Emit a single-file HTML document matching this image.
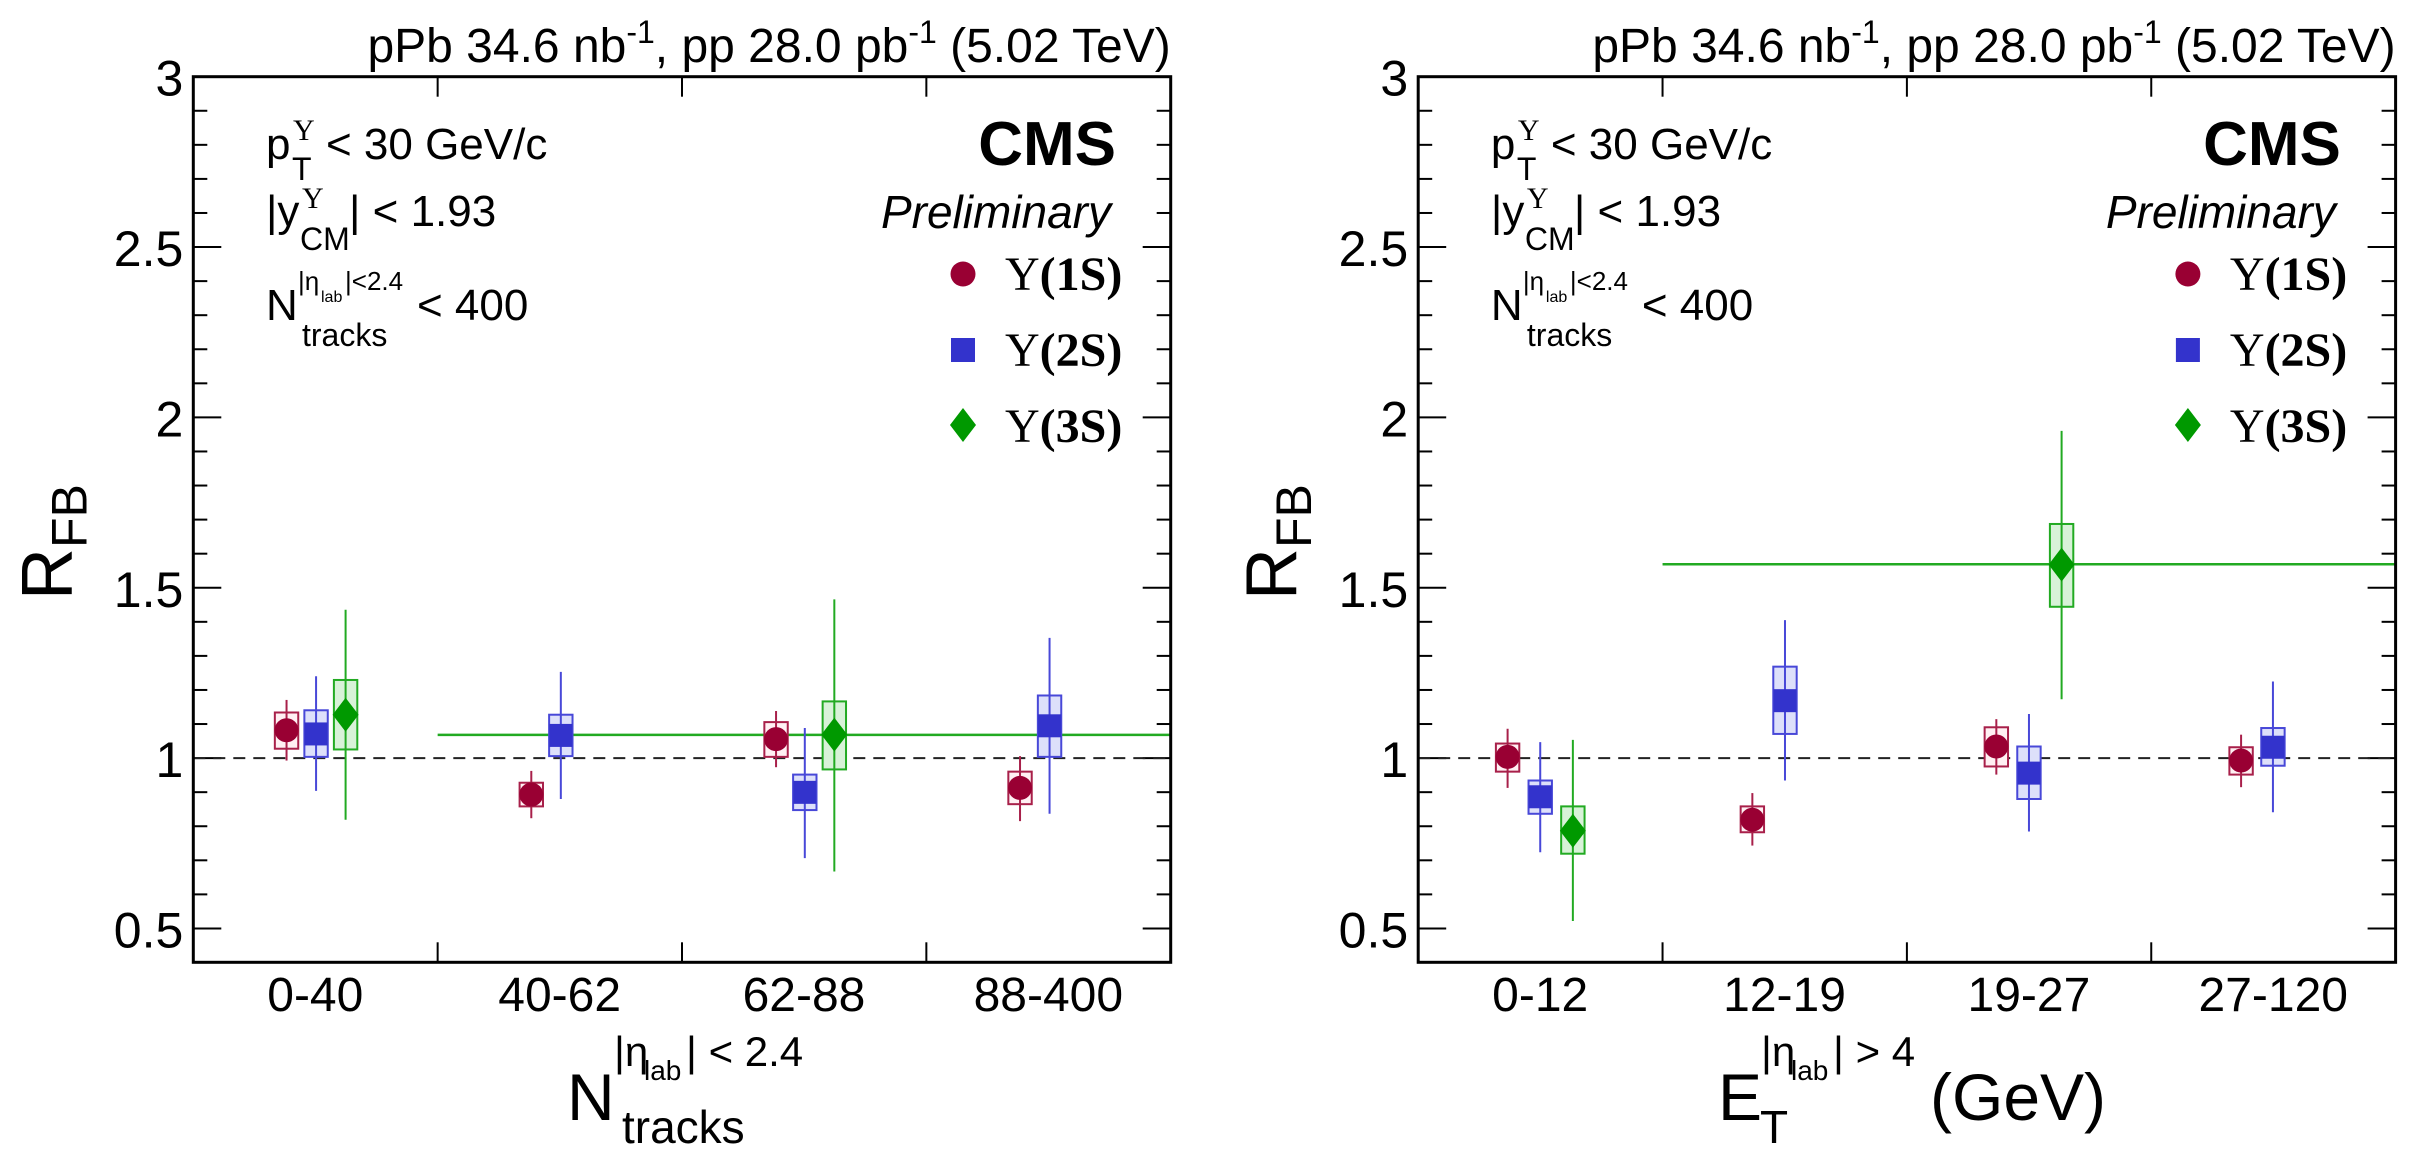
<!DOCTYPE html>
<html><head><meta charset="utf-8"><style>
html,body{margin:0;padding:0;background:#fff;}
svg{display:block;}
text{font-family:"Liberation Sans",sans-serif;fill:#000;}
.ser{font-family:"Liberation Serif",serif;font-weight:bold;}
</style></head><body>
<svg id="s" width="2435" height="1160" viewBox="0 0 2435 1160" xmlns="http://www.w3.org/2000/svg"></svg>
<script>
const S=document.getElementById('s');let h='';
const Y=v=>76.7+(3-v)*340.7;
const yz=z=>0.55+z*0.7393;
function panel(ox,off,xzf,data,gline,lab){
  const L=ox,R=ox+977.4,T=Y(3),B=962.3;
  for(let i=4;i<=30;i++){const v=i/10,y=Y(v),maj=(i%5==0),len=maj?28:14;
    h+=`<line x1="${L}" y1="${y}" x2="${L+len}" y2="${y}" stroke="#000" stroke-width="2"/>`;
    h+=`<line x1="${R}" y1="${y}" x2="${R-len}" y2="${y}" stroke="#000" stroke-width="2"/>`;
    if(maj)h+=`<text x="${L-10}" y="${y+19}" font-size="50" text-anchor="end">${[0.5,1,1.5,2,2.5,3].includes(v)?v:''}</text>`;}
  for(let k=1;k<4;k++){const x=L+k*244.35;
    h+=`<line x1="${x}" y1="${T}" x2="${x}" y2="${T+20}" stroke="#000" stroke-width="2"/><line x1="${x}" y1="${B}" x2="${x}" y2="${B-20}" stroke="#000" stroke-width="2"/>`;}
  for(let k=0;k<4;k++)h+=`<text x="${L+122+k*244.35}" y="1011" font-size="48" text-anchor="middle">${lab[k]}</text>`;
  h+=`<line x1="${L}" y1="${Y(1)}" x2="${R}" y2="${Y(1)}" stroke="#222" stroke-width="2" stroke-dasharray="12,8"/>`;
  h+=`<line x1="${L+244.35}" y1="${Y(gline)}" x2="${R}" y2="${Y(gline)}" stroke="#22aa22" stroke-width="2.5"/>`;
  const col={1:['#990033','#a8204a','#fff0f3'],2:['#3333cc','#4848d8','#dde0fa'],3:['#009900','#22aa22','#d8f2d8']};
  data.forEach(d=>{const[t,x0,y0,bt,bb,st,sb]=d;const x=xzf(x0),y=yz(y0),c=col[t];
    h+=`<line x1="${x}" y1="${yz(st)}" x2="${x}" y2="${yz(sb)}" stroke="${c[1]}" stroke-width="2"/>`;
    h+=`<rect x="${x-11.7}" y="${yz(bt)}" width="23.4" height="${yz(bb)-yz(bt)}" fill="${c[2]}" stroke="${c[1]}" stroke-width="2"/>`;
    h+=`<line x1="${x}" y1="${yz(bt)}" x2="${x}" y2="${yz(bb)}" stroke="${c[1]}" stroke-width="2"/>`;
    if(t==1)h+=`<circle cx="${x}" cy="${y}" r="12" fill="${c[0]}"/>`;
    if(t==2)h+=`<rect x="${x-11.5}" y="${y-11.5}" width="23" height="23" fill="${c[0]}"/>`;
    if(t==3)h+=`<polygon points="${x},${y-17} ${x+13},${y} ${x},${y+17} ${x-13},${y}" fill="${c[0]}"/>`;});
  h+=`<rect x="${L}" y="${T}" width="977.4" height="${B-T}" fill="none" stroke="#000" stroke-width="3"/>`;
  const a=ox-193.3;
  h+=`<text x="${R}" y="62" font-size="48" text-anchor="end">pPb 34.6 nb<tspan dy="-19" font-size="32">-1</tspan><tspan dy="19">, pp 28.0 pb</tspan><tspan dy="-19" font-size="32">-1</tspan><tspan dy="19"> (5.02 TeV)</tspan></text>`;
  h+=`<text x="${266+a}" y="159" font-size="44">p</text><text x="${293+a}" y="140" font-size="30" class="ser" style="font-weight:normal">Y</text><text x="${292+a}" y="180" font-size="32">T</text><text x="${326+a}" y="159" font-size="44">&lt; 30 GeV/c</text>`;
  h+=`<text x="${266+a}" y="226" font-size="44">|y</text><text x="${302+a}" y="208" font-size="30" class="ser" style="font-weight:normal">Y</text><text x="${300+a}" y="250" font-size="32">CM</text><text x="${349+a}" y="226" font-size="44">| &lt; 1.93</text>`;
  h+=`<text x="${266+a}" y="320" font-size="44">N</text><text x="${298+a}" y="290" font-size="26">|η</text><text x="${321+a}" y="302" font-size="16">lab</text><text x="${345+a}" y="290" font-size="26">|&lt;2.4</text><text x="${302+a}" y="346" font-size="32">tracks</text><text x="${417+a}" y="320" font-size="44">&lt; 400</text>`;
  h+=`<text x="${1116+a}" y="165" font-size="62" font-weight="bold" text-anchor="end">CMS</text>`;
  h+=`<text x="${1111+a}" y="228" font-size="46" font-style="italic" text-anchor="end">Preliminary</text>`;
  h+=`<circle cx="${963+a}" cy="274" r="12.5" fill="#990033"/><rect x="${951+a}" y="338" width="24" height="24" fill="#3333cc"/><polygon points="${963+a},408 ${976+a},425 ${963+a},442 ${950+a},425" fill="#009900"/>`;
  [['1S',290],['2S',366],['3S',442]].forEach(([s,y])=>h+=`<text x="${1005+a}" y="${y}" font-size="48" class="ser"><tspan font-weight="normal">Υ</tspan>(${s})</text>`);
  h+=`<text transform="translate(${ox-122},600) rotate(-90)" font-size="72">R<tspan dy="15" font-size="50">FB</tspan></text>`;
}
const lx=z=>z*0.777-0.17, rx=z=>1217+z*0.777;
panel(193.3,0,lx,[
[1,369,987,963,1012,946,1028],[2,407,992,960,1023,914,1069],[3,445,966,919,1013,824,1108],
[1,684,1074,1058,1090,1042,1106],[2,722,994,966,1022,908,1080],
[1,999,999,976,1023,961,1037],[2,1036,1071,1047,1095,984,1160],[3,1074,993,948,1040,810,1178],
[1,1313,1065,1043,1087,1022,1110],[2,1351,981,940,1023,862,1100]],1.068,['0-40','40-62','62-88','88-400']);
panel(1418.2,0,rx,[
[1,374,1023,1005,1043,985,1065],[2,416,1077,1055,1100,1003,1152],[3,458,1123,1090,1154,1000,1245],
[1,689,1108,1090,1125,1072,1143],[2,731,947,901,992,838,1055],
[1,1003,1009,983,1036,972,1047],[2,1045,1045,1009,1080,965,1124],[3,1087,763,708,820,582,945],
[1,1318,1028,1010,1047,993,1064],[2,1359,1010,984,1035,921,1098]],1.569,['0-12','12-19','19-27','27-120']);
h+=`<text x="567" y="1120" font-size="66">N</text><text x="614" y="1066" font-size="42">|η</text><text x="644" y="1080" font-size="28">lab</text><text x="686" y="1066" font-size="42">| &lt; 2.4</text><text x="622" y="1143" font-size="46">tracks</text>`;
h+=`<text x="1718" y="1120" font-size="66">E</text><text x="1760" y="1143" font-size="46">T</text><text x="1761" y="1066" font-size="42">|η</text><text x="1791" y="1080" font-size="28">lab</text><text x="1833" y="1066" font-size="42">| &gt; 4</text><text x="1930" y="1120" font-size="66">(GeV)</text>`;
S.innerHTML=h;
</script>
</body></html>
